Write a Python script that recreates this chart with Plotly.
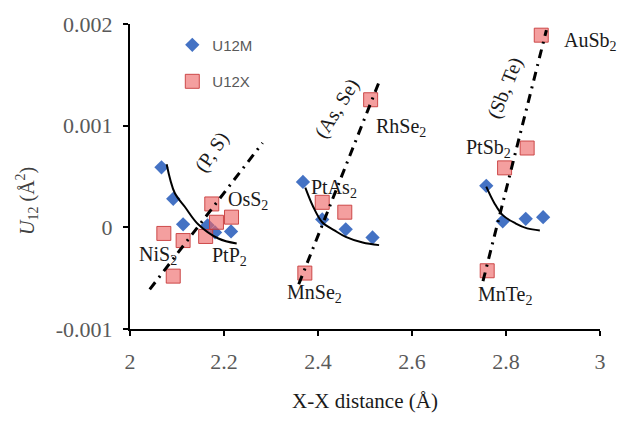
import plotly.graph_objects as go

# ---------------- data ----------------
m_x = [2.067, 2.092, 2.113, 2.165, 2.181, 2.215,
       2.368, 2.409, 2.459, 2.516,
       2.758, 2.793, 2.842, 2.879]
m_y = [0.00059, 0.00028, 0.00003, 0.00002, -0.00005, -0.00004,
       0.000447, 0.000078, -0.00002, -0.0001,
       0.000408, 0.00006, 0.000084, 0.0001]

x_x = [2.072, 2.113, 2.092, 2.174, 2.184, 2.216, 2.161,
       2.512, 2.409, 2.457, 2.372,
       2.875, 2.845, 2.797, 2.760]
x_y = [-0.00006, -0.00013, -0.00048, 0.00023, 0.00005, 0.0001, -0.00009,
       0.001255, 0.000246, 0.000149, -0.00045,
       0.00189, 0.00078, 0.000585, -0.000427]

# solid trend curves
curve1_x = [2.078, 2.095, 2.117, 2.145, 2.188, 2.227]
curve1_y = [0.00062, 0.00034, 0.0002, 0.00003, -0.00011, -0.00016]
curve2_x = [2.373, 2.390, 2.409, 2.435, 2.459, 2.495, 2.53]
curve2_y = [0.00039, 0.0002, 0.00005, -0.00003, -0.000094, -0.00015, -0.000175]
curve3_x = [2.758, 2.775, 2.793, 2.82, 2.845, 2.872]
curve3_y = [0.0004, 0.00024, 0.00012, 0.00004, -0.00001, -0.00003]

# dash-dot guide lines
guide1_x = [2.042, 2.282]
guide1_y = [-0.000610, 0.00083]
guide2_x = [2.359, 2.530]
guide2_y = [-0.00056, 0.00143]
guide3_x = [2.751, 2.886]
guide3_y = [-0.00053, 0.00194]

x_ticks = [2, 2.2, 2.4, 2.6, 2.8, 3]
x_ticktext = ["2", "2.2", "2.4", "2.6", "2.8", "3"]
y_ticks = [-0.001, 0, 0.001, 0.002]
y_ticktext = ["-0.001", "0", "0.001", "0.002"]

labels = ["NiS<sub>2</sub>", "PtP<sub>2</sub>", "OsS<sub>2</sub>", "PtAs<sub>2</sub>",
          "RhSe<sub>2</sub>", "MnSe<sub>2</sub>", "PtSb<sub>2</sub>", "AuSb<sub>2</sub>",
          "MnTe<sub>2</sub>"]
label_x = [2.060, 2.2115, 2.252, 2.434, 2.577, 2.393, 2.763, 2.979, 2.797]
label_y = [-0.00028, -0.00029, 0.00026, 0.00038, 0.00098, -0.00065, 0.00078, 0.00183, -0.00067]

groups = ["(P, S)", "(As, Se)", "(Sb, Te)"]
group_x = [2.173, 2.440, 2.797]
group_y = [0.00074, 0.00117, 0.00137]
group_angle = [-56, -58, -68]

SERIF = "Liberation Serif"

fig = go.Figure()
fig.add_trace(go.Scatter(
    x=m_x, y=m_y, mode="markers", name="U12M", legendgroup="a",
    marker=dict(symbol="diamond", size=11, color="#4472C4",
                line=dict(width=0))))
fig.add_trace(go.Scatter(
    x=x_x, y=x_y, mode="markers", name="U12X", legendgroup="b",
    marker=dict(symbol="square", size=14, color="rgba(237,100,100,0.62)",
                line=dict(width=1, color="rgba(200,60,60,0.9)"))))

for cx, cy in [(curve1_x, curve1_y), (curve2_x, curve2_y), (curve3_x, curve3_y)]:
    fig.add_trace(go.Scatter(x=cx, y=cy, mode="lines", showlegend=False,
                             line=dict(color="black", width=2, shape="spline"),
                             hoverinfo="skip"))
for gx, gy in [(guide1_x, guide1_y), (guide2_x, guide2_y), (guide3_x, guide3_y)]:
    fig.add_trace(go.Scatter(x=gx, y=gy, mode="lines", showlegend=False,
                             line=dict(color="black", width=3, dash="9px,6px,2px,6px"),
                             hoverinfo="skip"))

annotations = []
for t, ax_, ay_ in zip(labels, label_x, label_y):
    annotations.append(dict(x=ax_, y=ay_, xref="x", yref="y", text=t, showarrow=False,
                            font=dict(family=SERIF, size=20, color="#1a1a1a")))
for t, gx, gy, ang in zip(groups, group_x, group_y, group_angle):
    annotations.append(dict(x=gx, y=gy, xref="x", yref="y", text=t, showarrow=False,
                            textangle=ang,
                            font=dict(family=SERIF, size=20, color="#1a1a1a")))
annotations.append(dict(x=-0.219, y=0.42, xref="paper", yref="paper",
                        xanchor="center", yanchor="middle",
                        text="<i>U</i><sub>12</sub> (Å<sup>2</sup>)", showarrow=False,
                        textangle=-90, font=dict(family=SERIF, size=20, color="#404040")))

fig.update_layout(
    width=624, height=421,
    margin=dict(l=130, r=24, t=23, b=86),
    plot_bgcolor="white", paper_bgcolor="white",
    showlegend=True,
    legend=dict(x=0.09, y=0.985, xanchor="left", yanchor="top",
                bgcolor="rgba(0,0,0,0)", tracegroupgap=14,
                font=dict(family="Liberation Sans", size=15, color="#595959")),
    annotations=annotations,
    xaxis=dict(range=[2, 3], tickvals=x_ticks, ticktext=x_ticktext,
               showgrid=False, zeroline=False, showline=True, linecolor="black",
               linewidth=2, ticks="outside", ticklen=5, tickwidth=2, tickcolor="black",
               ticklabelstandoff=7,
               tickfont=dict(family=SERIF, size=22, color="#595959"),
               title=dict(text="X-X distance (Å)", standoff=20,
                          font=dict(family=SERIF, size=21, color="#1a1a1a"))),
    yaxis=dict(range=[-0.001, 0.002], tickvals=y_ticks, ticktext=y_ticktext,
               showgrid=False, zeroline=False, showline=True, linecolor="black",
               linewidth=2, ticks="outside", ticklen=5, tickwidth=2, tickcolor="black",
               ticklabelstandoff=6,
               tickfont=dict(family=SERIF, size=22, color="#595959")),
)

fig.write_html("out.html")
